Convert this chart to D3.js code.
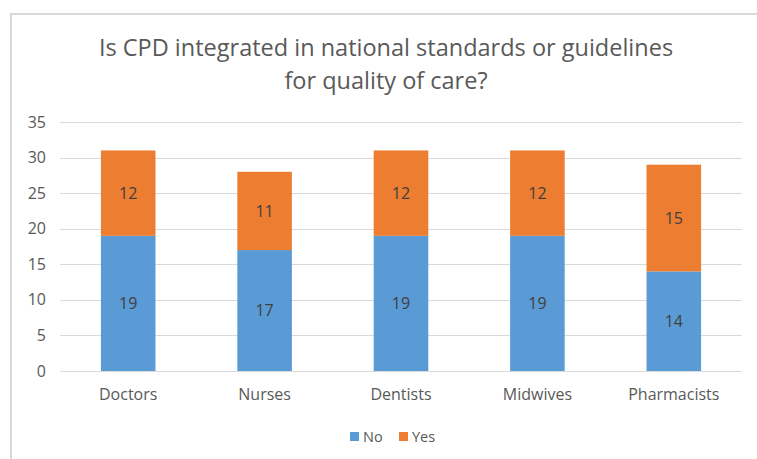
<!DOCTYPE html>
<html>
<head>
<meta charset="utf-8">
<script src="https://cdn.jsdelivr.net/npm/d3@7"></script>
<style>
  html, body { margin: 0; padding: 0; background: #fff; }
  svg { display: block; font-family: "Open Sans", "Liberation Sans", sans-serif; }
</style>
</head>
<body>
<svg id="chart" width="757" height="459"></svg>
<script>
const categories = ["Doctors", "Nurses", "Dentists", "Midwives", "Pharmacists"];
const noValues = [19, 17, 19, 19, 14];
const yesValues = [12, 11, 12, 12, 15];
const seriesNames = ["No", "Yes"];
const seriesColors = ["#5B9BD5", "#ED7D31"];
const yTicks = [0, 5, 10, 15, 20, 25, 30, 35];
const titleLines = ["Is CPD integrated in national standards or guidelines", "for quality of care?"];

const svg = d3.select("#chart");
const W = 757, H = 459;
const plot = { left: 60, right: 742, top: 122, bottom: 371 };

// chart frame (top and left edges)
svg.append("path")
  .attr("d", `M11,${H} L11,14 L${W},14`)
  .attr("fill", "none")
  .attr("stroke", "#d9d9d9")
  .attr("stroke-width", 2);

// title
const title = svg.append("g").attr("fill", "#595959").attr("text-anchor", "middle");
title.append("text").attr("x", 386).attr("y", 56).attr("font-size", 23.5).text(titleLines[0]);
title.append("text").attr("x", 386).attr("y", 89).attr("font-size", 23.5).text(titleLines[1]);

const x = d3.scaleBand().domain(categories).range([plot.left, plot.right]).paddingInner(0.6).paddingOuter(0.3);
const y = d3.scaleLinear().domain([0, 35]).range([plot.bottom, plot.top]);

// gridlines
svg.append("g").selectAll("line").data(yTicks).join("line")
  .attr("x1", plot.left).attr("x2", plot.right)
  .attr("y1", d => Math.round(y(d)) + 0.5).attr("y2", d => Math.round(y(d)) + 0.5)
  .attr("stroke", "#d9d9d9").attr("stroke-width", 1);

// y axis labels
const yAxis = svg.append("g").attr("transform", `translate(${plot.left - 14},0)`)
  .call(d3.axisLeft(y).tickValues(yTicks).tickSize(0).tickPadding(0));
yAxis.select(".domain").remove();
yAxis.selectAll("text").attr("fill", "#595959").attr("font-size", 16)
  .attr("font-family", "'Open Sans', sans-serif");

// x axis labels
const xAxis = svg.append("g").attr("transform", `translate(0,${plot.bottom})`)
  .call(d3.axisBottom(x).tickSize(0).tickPadding(18));
xAxis.select(".domain").remove();
xAxis.selectAll("text").attr("fill", "#595959").attr("font-size", 16)
  .attr("font-family", "'Open Sans', sans-serif");

// stacked bars
const rows = categories.map((c, i) => ({ cat: c, No: noValues[i], Yes: yesValues[i] }));
const stacked = d3.stack().keys(seriesNames)(rows);
const groups = svg.append("g").selectAll("g").data(stacked).join("g")
  .attr("fill", (d, i) => seriesColors[i]);
groups.selectAll("rect").data(d => d).join("rect")
  .attr("x", d => x(d.data.cat))
  .attr("width", x.bandwidth())
  .attr("y", d => y(d[1]))
  .attr("height", d => y(d[0]) - y(d[1]));

// value labels
groups.selectAll("text").data(d => d).join("text")
  .attr("x", d => x(d.data.cat) + x.bandwidth() / 2)
  .attr("y", d => (y(d[0]) + y(d[1])) / 2)
  .attr("dy", "0.35em")
  .attr("text-anchor", "middle")
  .attr("fill", "#404040")
  .attr("font-size", 16)
  .text(d => d[1] - d[0]);

// legend
const legend = svg.append("g").attr("transform", "translate(350,437)");
const items = [{ name: seriesNames[0], color: seriesColors[0], x: 0 }, { name: seriesNames[1], color: seriesColors[1], x: 49 }];
items.forEach(it => {
  legend.append("rect").attr("x", it.x).attr("y", -5).attr("width", 9).attr("height", 9).attr("fill", it.color);
  legend.append("text").attr("x", it.x + 13).attr("y", 0).attr("dy", "0.35em")
    .attr("fill", "#595959").attr("font-size", 14.5).text(it.name);
});
</script>
</body>
</html>
